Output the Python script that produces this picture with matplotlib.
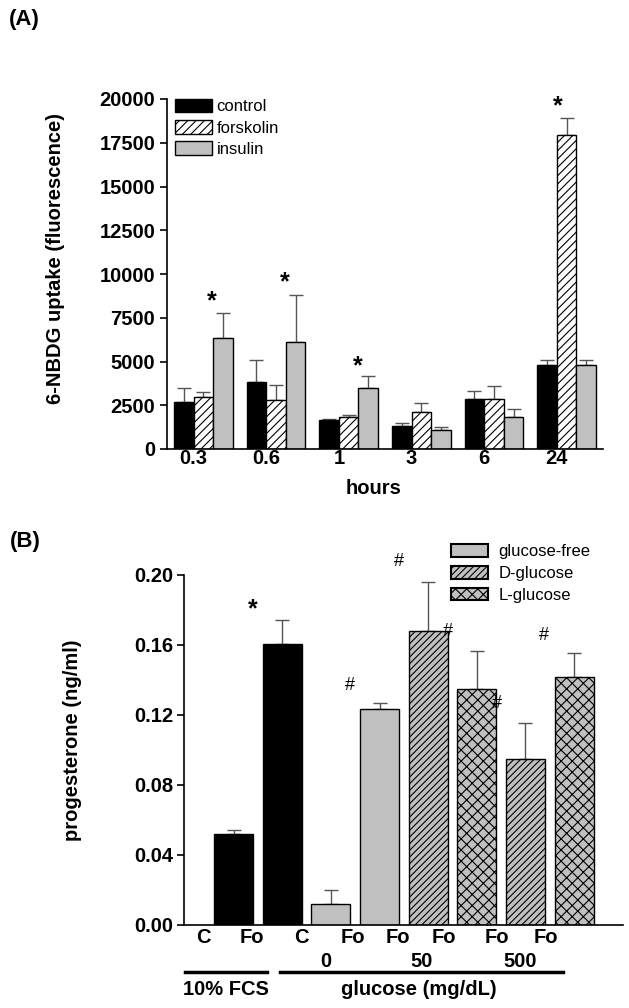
import matplotlib
matplotlib.use('Agg')
import matplotlib.pyplot as plt
import matplotlib.transforms as mtransforms
from matplotlib.patches import Patch
import numpy as np

plt.rcParams['font.family'] = ['Liberation Sans', 'DejaVu Sans']
plt.rcParams['hatch.linewidth'] = 0.8

# ---- (A) 6-NBDG uptake over time ----
hours = ['0.3', '0.6', '1', '3', '6', '24']
control = [2700, 3820, 1630, 1320, 2850, 4780]
control_err = [760, 1240, 60, 150, 440, 280]
forskolin = [2960, 2790, 1815, 2140, 2850, 17950]
forskolin_err = [310, 880, 135, 475, 760, 950]
insulin = [6340, 6115, 3465, 1110, 1855, 4815]
insulin_err = [1435, 2695, 685, 170, 420, 245]
star_x_a = [0.12, 1.12, 2.12, 4.88]
star_y_a = [8820, 9900, 5100, 20000]

# ---- (B) progesterone ----
b_labels = ['C', 'Fo', 'C', 'Fo', 'Fo', 'Fo', 'Fo', 'Fo']
b_label_x = [-0.63, 0.37, 1.40, 2.46, 3.38, 4.32, 5.42, 6.42]
prog = [0.0517, 0.1607, 0.0119, 0.1235, 0.1677, 0.1347, 0.0948, 0.1418]
prog_err = [0.0025, 0.0137, 0.0076, 0.0033, 0.0282, 0.0220, 0.0207, 0.0137]
prog_kind = ['fcs', 'fcs', 'free', 'free', 'D', 'L', 'D', 'L']
glucose_levels = ['0', '50', '500']
glucose_x = [1.90, 3.87, 5.90]
hash_x = [2.39, 3.40, 4.40, 5.41, 6.38]
hash_y = [0.138, 0.2087, 0.1687, 0.1277, 0.1667]
star_x_b, star_y_b = 0.39, 0.1845

GRAY = '#c0c0c0'
kind_style = {
    'fcs': dict(color='black', hatch=None),
    'free': dict(color=GRAY, hatch=None),
    'D': dict(color=GRAY, hatch='/////'),
    'L': dict(color=GRAY, hatch='xxx'),
}

W, H = 629, 1008
fig = plt.figure(figsize=(W / 100, H / 100), dpi=100)


def style_axes(ax):
    ax.spines['top'].set_visible(False)
    ax.spines['right'].set_visible(False)
    ax.spines['left'].set_linewidth(1.2)
    ax.spines['bottom'].set_linewidth(1.2)


def star(ax, x, y, fs=18):
    # put the middle of the asterisk glyph at (x, y)
    ax.annotate('*', xy=(x, y), xytext=(0, -0.56 * fs), textcoords='offset points',
                ha='center', va='baseline', fontsize=fs, fontweight='bold', annotation_clip=False)


# panel A
axA = fig.add_axes([167 / W, 1 - 449 / H, 436 / W, 350 / H])
x = np.arange(len(hours))
w = 0.27
err_kw = dict(fmt='none', ecolor='#555555', elinewidth=1, capsize=5, capthick=1, zorder=1)
zeros = np.zeros(len(hours))
axA.bar(x - w, control, w, color='black', edgecolor='black', lw=1, label='control', zorder=2)
axA.errorbar(x - w, control, yerr=[zeros, control_err], **err_kw)
axA.bar(x, forskolin, w, color='white', edgecolor='black', hatch='////', lw=1, label='forskolin', zorder=2)
axA.errorbar(x, forskolin, yerr=[zeros, forskolin_err], **err_kw)
axA.bar(x + w, insulin, w, color=GRAY, edgecolor='black', lw=1, label='insulin', zorder=2)
axA.errorbar(x + w, insulin, yerr=[zeros, insulin_err], **err_kw)
for sx, sy in zip(star_x_a, star_y_a):
    star(axA, sx, sy)

axA.set_xlim(-0.5, 5.5)
axA.set_ylim(0, 20000)
axA.set_yticks(np.arange(0, 20001, 2500))
axA.set_xticks(x - w / 2, hours)
axA.tick_params(axis='x', length=0, pad=0, labelsize=14.5)
axA.tick_params(axis='y', length=5, width=1.2, pad=3.5, labelsize=14.5)
plt.setp(axA.get_xticklabels() + axA.get_yticklabels(), fontweight='bold')
style_axes(axA)
axA.legend(loc='upper left', bbox_to_anchor=(0.018, 1.0), frameon=False, fontsize=12,
           handlelength=2.2, handleheight=0.85, handletextpad=0.3, labelspacing=0.35,
           borderpad=0, borderaxespad=0)

fig.text(24 / W, 1 - 19 / H, '(A)', ha='center', va='center', fontsize=16, fontweight='bold')
fig.text(56 / W, 1 - 258 / H, '6-NBDG uptake (fluorescence)', rotation=90,
         ha='center', va='center', fontsize=14.5, fontweight='bold')
fig.text(374 / W, 1 - 488 / H, 'hours', ha='center', va='center', fontsize=14.5, fontweight='bold')

# panel B
axB = fig.add_axes([184 / W, 1 - 924.5 / H, 438.7 / W, 349.5 / H])
xb = np.arange(len(prog))
for i, (v, e, k) in enumerate(zip(prog, prog_err, prog_kind)):
    st = kind_style[k]
    axB.bar(xb[i], v, 0.8, color=st['color'], edgecolor='black', hatch=st['hatch'], lw=1, zorder=2)
    axB.errorbar(xb[i], v, yerr=[[0], [e]], **err_kw)

star(axB, star_x_b, star_y_b)
for hx, hy in zip(hash_x, hash_y):
    axB.annotate('#', xy=(hx, hy), xytext=(0, -4.6), textcoords='offset points',
                 ha='center', va='baseline', fontsize=13, annotation_clip=False)

axB.set_xlim(-1.02, 8.0)
axB.set_ylim(0, 0.2)
axB.set_yticks(np.arange(0, 0.201, 0.04))
axB.set_yticklabels(['%.2f' % t for t in np.arange(0, 0.201, 0.04)])
axB.set_xticks([])
axB.tick_params(axis='y', length=5, width=1.2, pad=3, labelsize=14.5)
plt.setp(axB.get_yticklabels(), fontweight='bold')
style_axes(axB)

trans = mtransforms.blended_transform_factory(axB.transData, axB.transAxes)
for lx, lab in zip(b_label_x, b_labels):
    axB.text(lx, -0.0386, lab, transform=trans, ha='center', va='center',
             fontsize=14.5, fontweight='bold', clip_on=False)
for gx, lab in zip(glucose_x, glucose_levels):
    axB.text(gx, -0.107, lab, transform=trans, ha='center', va='center',
             fontsize=14.5, fontweight='bold', clip_on=False)
axB.plot([-1.0, 0.68], [-0.136, -0.136], color='black', lw=2.5, transform=trans, clip_on=False)
axB.plot([0.95, 6.78], [-0.136, -0.136], color='black', lw=2.5, transform=trans, clip_on=False)
axB.text(-0.16, -0.187, '10% FCS', transform=trans, ha='center', va='center',
         fontsize=14.5, fontweight='bold', clip_on=False)
axB.text(3.81, -0.187, 'glucose (mg/dL)', transform=trans, ha='center', va='center',
         fontsize=14.5, fontweight='bold', clip_on=False)

handles = [Patch(facecolor=GRAY, edgecolor='black', lw=1.5, label='glucose-free'),
           Patch(facecolor=GRAY, edgecolor='black', lw=1.5, hatch='/////', label='D-glucose'),
           Patch(facecolor=GRAY, edgecolor='black', lw=1.5, hatch='xxx', label='L-glucose')]
axB.legend(handles=handles, loc='upper left', bbox_to_anchor=(0.6086, 1.0887), frameon=False,
           fontsize=12, handlelength=2.2, handleheight=0.8, handletextpad=0.65,
           labelspacing=0.4, borderpad=0, borderaxespad=0)

fig.text(25 / W, 1 - 542 / H, '(B)', ha='center', va='center', fontsize=16, fontweight='bold')
fig.text(72 / W, 1 - 740 / H, 'progesterone (ng/ml)', rotation=90,
         ha='center', va='center', fontsize=14.5, fontweight='bold')

fig.savefig('out.png', dpi=100)
